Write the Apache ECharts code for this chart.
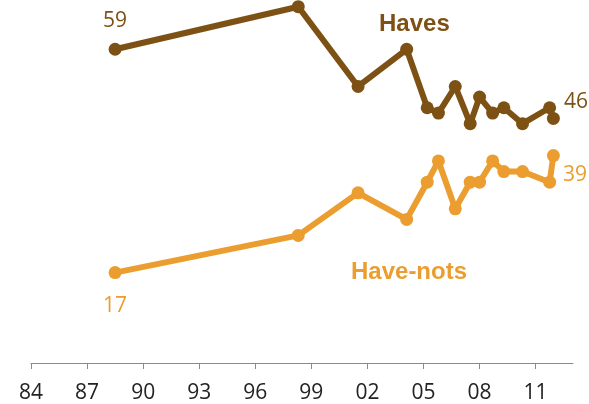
<!DOCTYPE html>
<html>
<head>
<meta charset="utf-8">
<script src="https://cdn.jsdelivr.net/npm/echarts@6/dist/echarts.min.js"></script>
<style>
  html, body { margin: 0; padding: 0; background: #fff; }
  #chart { width: 589px; height: 404px; }
</style>
</head>
<body>
<div id="chart"></div>
<script>
// Survey dates (decimal years) and shares for each group
const surveyYears = [1988.5, 1998.3, 2001.5, 2004.1, 2005.2, 2005.8, 2006.7, 2007.5, 2008.0, 2008.7, 2009.3, 2010.3, 2011.75, 2011.95];
const haves       = [59, 67, 52, 59, 48, 47, 52, 45, 50, 47, 48, 45, 48, 46];
const haveNots    = [17, 24, 32, 27, 34, 38, 29, 34, 34, 38, 36, 36, 34, 39];
const tickYears   = [1984, 1987, 1990, 1993, 1996, 1999, 2002, 2005, 2008, 2011];
const tickLabels  = ['84', '87', '90', '93', '96', '99', '02', '05', '08', '11'];

const BROWN = '#7D5114';
const ORANGE = '#EB9E2F';
const NUM_FONT = 'Open Sans';

function buildData(values, labelled) {
  return values.map((v, i) => {
    const item = { value: [surveyYears[i], v] };
    if (labelled[i]) item.label = Object.assign({ show: true }, labelled[i]);
    return item;
  });
}

const valueText = p => String(p.value[1]);

const havesData = buildData(haves, {
  0: { position: 'top', distance: 11 },
  13: { position: 'right', distance: 4, offset: [0, -16] }
});
const haveNotsData = buildData(haveNots, {
  0: { position: 'bottom', distance: 16 },
  13: { position: 'right', distance: 3, offset: [0, 19] }
});

const chart = echarts.init(document.getElementById('chart'), null, { renderer: 'canvas' });
chart.setOption({
  animation: false,
  backgroundColor: '#ffffff',
  grid: { left: 31, right: 16, top: 1.4, bottom: 41, containLabel: false },
  xAxis: {
    type: 'value',
    min: 1984,
    max: 2013,
    splitLine: { show: false },
    axisLine: { show: true, lineStyle: { color: '#8a8a8a', width: 1 } },
    axisTick: { show: true, customValues: tickYears, length: 6, lineStyle: { color: '#8a8a8a' } },
    axisLabel: {
      customValues: tickYears,
      formatter: v => tickLabels[tickYears.indexOf(Math.round(v))] || '',
      color: '#222', fontFamily: NUM_FONT, fontSize: 21, margin: 20
    }
  },
  yAxis: {
    type: 'value', min: 0, max: 68,
    show: false, splitLine: { show: false }
  },
  series: [
    {
      name: 'Haves', type: 'line', data: havesData,
      clip: false,
      symbol: 'circle', symbolSize: 13,
      lineStyle: { color: BROWN, width: 6 },
      itemStyle: { color: BROWN },
      label: { show: false, formatter: valueText, color: BROWN, fontFamily: NUM_FONT, fontSize: 21 }
    },
    {
      name: 'Have-nots', type: 'line', data: haveNotsData,
      clip: false,
      symbol: 'circle', symbolSize: 13,
      lineStyle: { color: ORANGE, width: 6 },
      itemStyle: { color: ORANGE },
      label: { show: false, formatter: valueText, color: ORANGE, fontFamily: NUM_FONT, fontSize: 21 }
    }
  ],
  graphic: [
    { type: 'text', left: 379, top: 12,
      style: { text: 'Haves', fill: BROWN, font: 'bold 24px "Liberation Sans"' } },
    { type: 'text', left: 351, top: 260,
      style: { text: 'Have-nots', fill: ORANGE, font: 'bold 24px "Liberation Sans"' } }
  ]
});
</script>
</body>
</html>
